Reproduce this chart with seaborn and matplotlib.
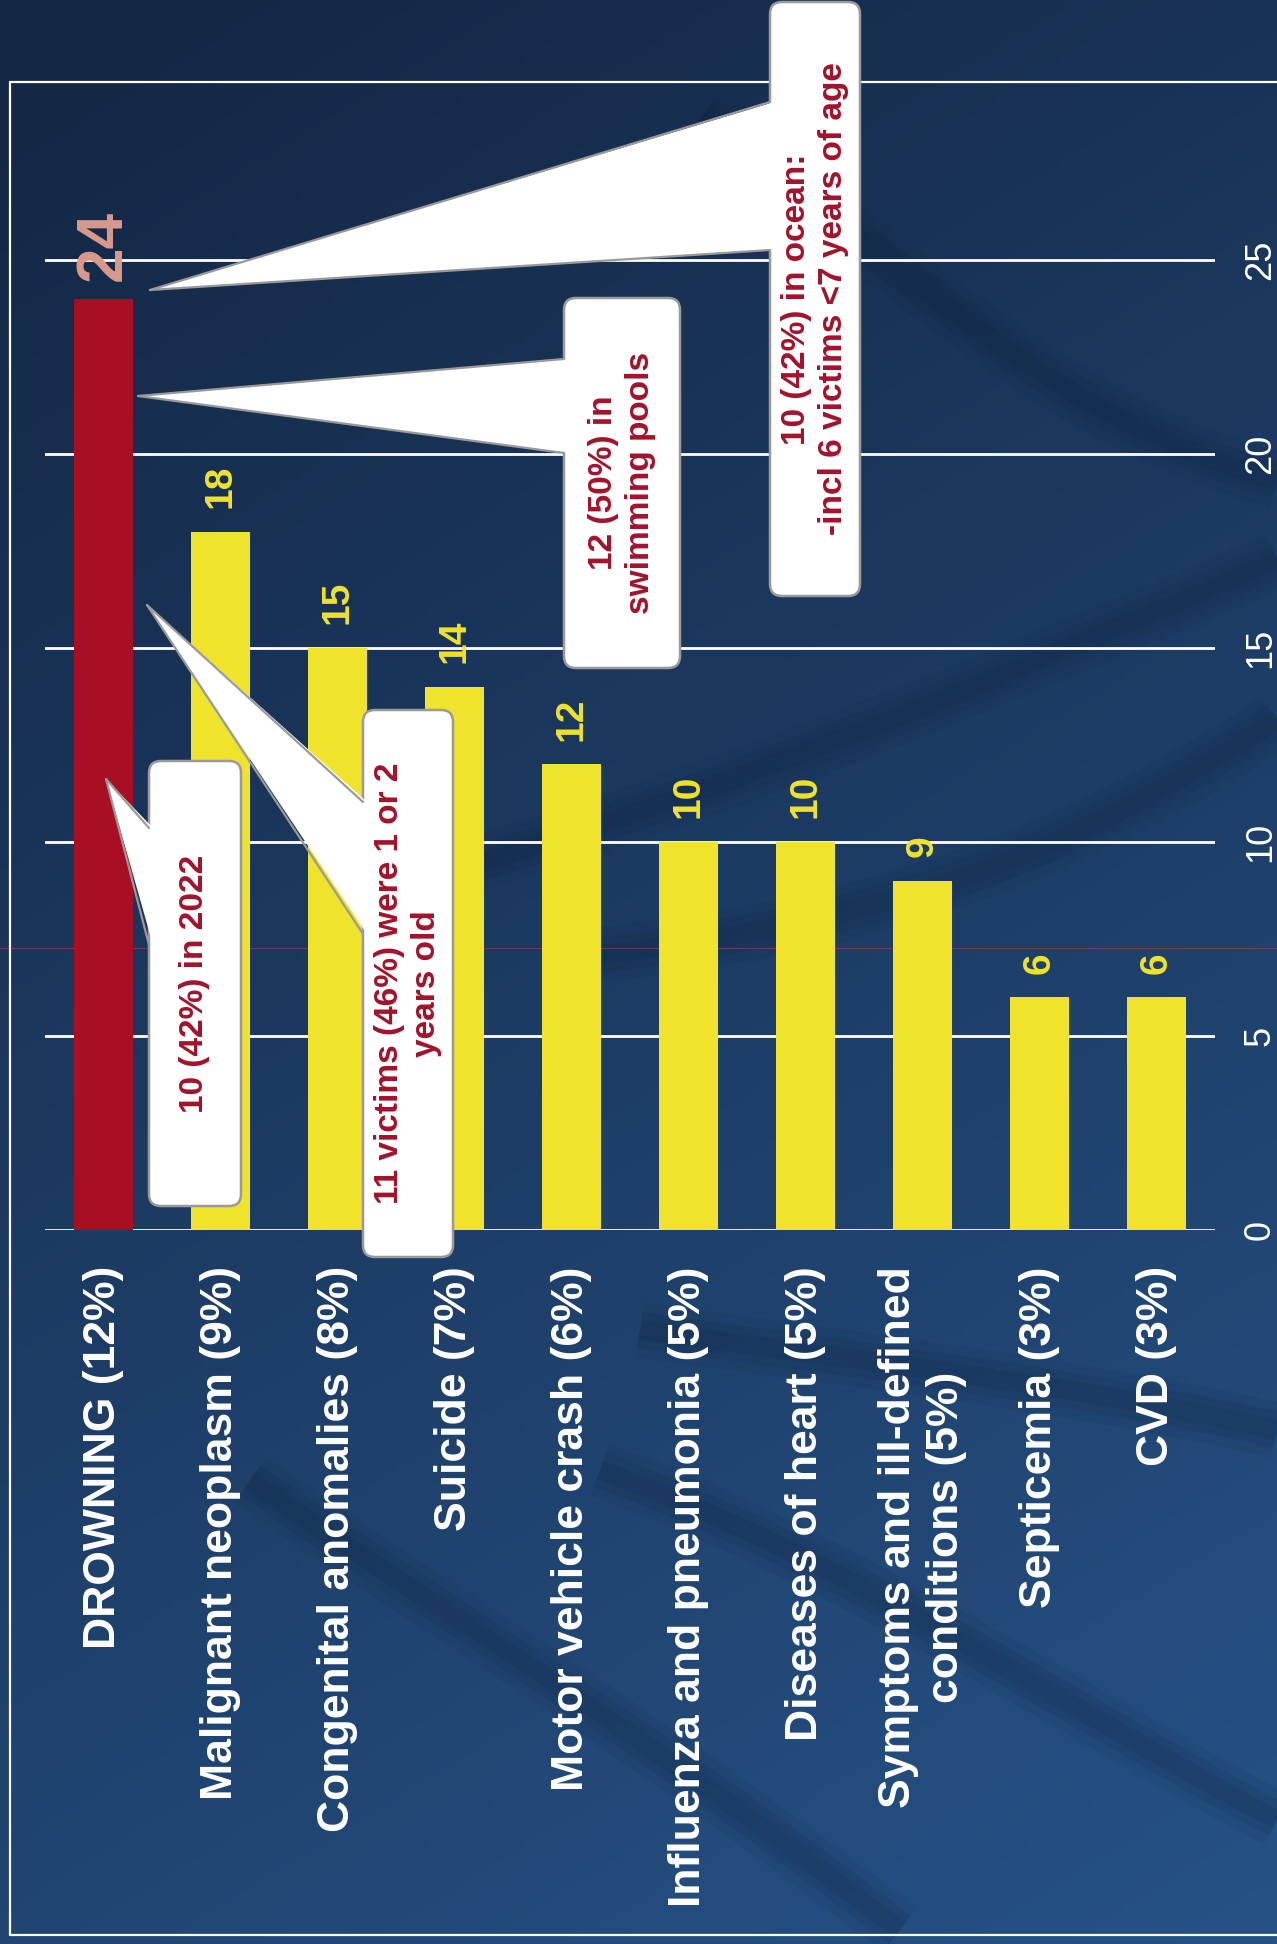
import numpy as np
import pandas as pd
import matplotlib
matplotlib.use("Agg")
import matplotlib.pyplot as plt
import seaborn as sns
from matplotlib.patches import FancyBboxPatch, Polygon, PathPatch
from matplotlib.path import Path
from matplotlib.lines import Line2D

# ---------------- data ----------------
categories = [
    "DROWNING (12%)",
    "Malignant neoplasm (9%)",
    "Congenital anomalies (8%)",
    "Suicide (7%)",
    "Motor vehicle crash (6%)",
    "Influenza and pneumonia (5%)",
    "Diseases of heart (5%)",
    "Symptoms and ill-defined\nconditions (5%)",
    "Septicemia (3%)",
    "CVD (3%)",
]
values = [24, 18, 15, 14, 12, 10, 10, 9, 6, 6]
bar_colors = ["#a80f25"] + ["#f0e32c"] * 9
value_label_colors = ["#d89a8c"] + ["#f0e32c"] * 9
y_ticks = [0, 5, 10, 15, 20, 25]
callout_texts = [
    "10 (42%) in 2022",
    "11 victims (46%) were 1 or 2\nyears old",
    "12 (50%) in\nswimming pools",
    "10 (42%) in ocean:\n-incl 6 victims <7 years of age",
]

# ---------------- figure ----------------
W, H = 1277, 1944
sns.set_theme(style="white")
plt.rcParams['font.family'] = ['Liberation Sans', 'DejaVu Sans']

fig = plt.figure(figsize=(W / 100, H / 100), dpi=100)

# background (pixel coordinates, y downward)
bg = fig.add_axes([0, 0, 1, 1], zorder=-10)
bg.set_xlim(0, W)
bg.set_ylim(H, 0)
bg.axis('off')
yy, xx = np.mgrid[0:1:300j, 0:1:200j]
c_top = np.array([20, 40, 70]) / 255
c_bot = np.array([38, 82, 134]) / 255
t = np.clip(0.75 * yy + 0.30 * xx - 0.05, 0, 1)
img = c_top[None, None, :] * (1 - t[..., None]) + c_bot[None, None, :] * t[..., None]
bg.imshow(img, aspect='auto', extent=[0, W, H, 0], zorder=0)

# soft dark swooshes of the photo background
swooshes = [
    [(560, 960), (800, 930), (1000, 900), (1277, 720)],
    [(420, 880), (700, 800), (950, 700), (1277, 560)],
    [(640, 1330), (850, 1360), (1050, 1380), (1277, 1430)],
    [(600, 1470), (850, 1560), (1050, 1700), (1277, 1820)],
    [(250, 1480), (420, 1600), (600, 1700), (900, 1930)],
    [(700, 120), (900, 260), (1050, 420), (1277, 480)],
]
for pts in swooshes:
    path = Path(pts, [Path.MOVETO, Path.CURVE4, Path.CURVE4, Path.CURVE4])
    for lw, a in [(40, 0.08), (26, 0.10), (14, 0.10)]:
        bg.add_patch(PathPatch(path, fill=False, edgecolor='#0c1d36', lw=lw, alpha=a,
                               capstyle='butt', zorder=1))

# faint scan line
bg.add_line(Line2D([0, W], [948, 948], color='#b03a4a', lw=0.8, alpha=0.6, zorder=2))

# outer white frame
frame_kw = dict(color='white', lw=1.6, zorder=5)
bg.add_line(Line2D([10, W], [82, 82], **frame_kw))
bg.add_line(Line2D([10, 10], [82, 1935], **frame_kw))
bg.add_line(Line2D([10, W], [1935, 1935], **frame_kw))

# ---------------- main chart ----------------
ax_left, ax_right, ax_top, ax_bot = 45, 1215, 82, 1230
ax = fig.add_axes([ax_left / W, 1 - ax_bot / H, (ax_right - ax_left) / W, (ax_bot - ax_top) / H])
ax.patch.set_alpha(0)

df = pd.DataFrame({"cause": categories, "deaths": values})
sns.barplot(data=df, x="cause", y="deaths", hue="cause", palette=bar_colors,
            width=0.51, saturation=1, legend=False, edgecolor='none', ax=ax)

ax.set_xlim(-0.5, 9.5)
ax.set_ylim(0, (ax_bot - ax_top) / 38.8)
ax.set_yticks(y_ticks)
ax.yaxis.tick_right()
ax.grid(axis='y', color='white', lw=2)
ax.grid(axis='x', visible=False)
ax.set_axisbelow(True)
for s in ax.spines.values():
    s.set_visible(False)
ax.set_xlabel('')
ax.set_ylabel('')

ax.tick_params(axis='y', length=0, pad=20, labelsize=26, labelcolor='white')
for lab in ax.get_yticklabels():
    lab.set_rotation(90)
    lab.set_va('center')
    lab.set_ha('left')

ax.tick_params(axis='x', length=0, pad=26, labelsize=32, labelcolor='white')
for lab in ax.get_xticklabels():
    lab.set_rotation(90)
    lab.set_fontweight('bold')
    lab.set_ha('center')
    lab.set_va('top')
    lab.set_multialignment('center')

# value labels
for i, v in enumerate(values):
    big = (i == 0)
    ax.annotate(str(v), (i, v), xytext=(0, 13 if big else 17), textcoords='offset points',
                rotation=90, ha='center', va='bottom',
                fontsize=46 if big else 28, fontweight='bold',
                color=value_label_colors[i])

# ---------------- callouts (overlay, pixel coordinates) ----------------
ov = fig.add_axes([0, 0, 1, 1], zorder=10)
ov.set_xlim(0, W)
ov.set_ylim(H, 0)
ov.axis('off')
ov.patch.set_alpha(0)

boxes = [(149, 761, 241, 1206), (363, 710, 453, 1257), (564, 298, 680, 668), (770, 2, 860, 596)]
tips = [(106, 779), (147, 605), (138, 396), (150, 290)]
bases = [((828, 945)), ((802, 934)), ((359, 453)), ((102, 250))]
edge_col = '#9a9a9a'
text_col = '#a3122b'

for (x0, y0, x1, y1), (tx, ty), (b0, b1), txt in zip(boxes, tips, bases, callout_texts):
    box = FancyBboxPatch((x0, y0), x1 - x0, y1 - y0,
                         boxstyle="round,pad=0,rounding_size=12",
                         facecolor='white', edgecolor=edge_col, lw=1.8, zorder=2)
    ov.add_patch(box)
    wedge = Polygon([(tx, ty), (x0 + 4, b0), (x0 + 4, b1)], closed=True,
                    facecolor='white', edgecolor='none', zorder=3)
    ov.add_patch(wedge)
    ov.add_line(Line2D([tx, x0], [ty, b0], color=edge_col, lw=1.6, zorder=4))
    ov.add_line(Line2D([tx, x0], [ty, b1], color=edge_col, lw=1.6, zorder=4))
    ov.text((x0 + x1) / 2, (y0 + y1) / 2, txt, rotation=90, ha='center', va='center',
            multialignment='center', fontsize=24, fontweight='bold', color=text_col,
            linespacing=1.25, zorder=5)

fig.savefig("out.png", dpi=100)
